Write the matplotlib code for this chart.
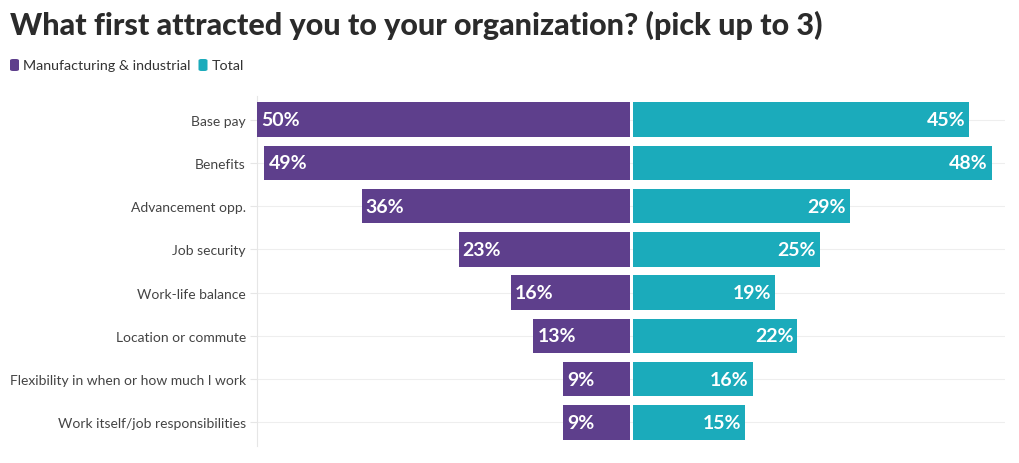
import matplotlib.pyplot as plt
from matplotlib.patches import FancyBboxPatch

categories = ["Base pay", "Benefits", "Advancement opp.", "Job security",
              "Work-life balance", "Location or commute",
              "Flexibility in when or how much I work",
              "Work itself/job responsibilities"]
manufacturing = [50, 49, 36, 23, 16, 13, 9, 9]
total = [45, 48, 29, 25, 19, 22, 16, 15]
series_names = ["Manufacturing & industrial", "Total"]

purple = "#5E3F8C"
teal = "#1BABBB"
gap = 0.2

plt.rcParams['font.family'] = ['Lato', 'DejaVu Sans']

fig = plt.figure(figsize=(10.2, 4.64), dpi=100)
ax = fig.add_axes([257 / 1020, 1 - 447 / 464, (1005 - 257) / 1020, (447 - 97) / 464])

y = list(range(len(categories)))
ax.barh(y, [-v for v in manufacturing], left=-gap, height=0.8, color=purple, zorder=3)
ax.barh(y, total, left=gap, height=0.8, color=teal, zorder=3)

for i, v in enumerate(manufacturing):
    ax.annotate(f"{v}%", (-v - gap, i), xytext=(3, 0), textcoords="offset points",
                ha="left", va="center", color="white", fontsize=14, fontweight="bold", zorder=4)
for i, v in enumerate(total):
    ax.annotate(f"{v}%", (v + gap, i), xytext=(-3, 0), textcoords="offset points",
                ha="right", va="center", color="white", fontsize=14, fontweight="bold", zorder=4)

ax.set_xlim(-50.2, 50.0)
ax.set_ylim(len(categories) - 0.5 + 0.05, -0.5 - 0.05)
ax.set_yticks(y)
ax.set_yticklabels(categories, fontsize=10, color="#444444")
ax.tick_params(axis="y", length=5, color="#e6e6e6", pad=3)
ax.set_xticks([])
ax.grid(axis="y", color="#eeeeee", linewidth=0.8, zorder=0)
for s in ["top", "right", "bottom"]:
    ax.spines[s].set_visible(False)
ax.spines["left"].set_color("#e6e6e6")

fig.text(10 / 1020, 1 - 25 / 464, "What first attracted you to your organization? (pick up to 3)",
         fontsize=22, fontweight="black", color="#2b2b2b", va="center", ha="left")

# legend
lx = 10
for name, col in zip(series_names, [purple, teal]):
    box = FancyBboxPatch((lx / 1020, 1 - 72 / 464), 9 / 1020, 12 / 464,
                         boxstyle="round,pad=0,rounding_size=0.003", transform=fig.transFigure,
                         facecolor=col, edgecolor="none")
    fig.patches.append(box)
    t = fig.text((lx + 13) / 1020, 1 - 66 / 464, name, fontsize=10.3, color="#333333",
                 va="center", ha="left")
    fig.canvas.draw()
    bb = t.get_window_extent()
    lx = bb.x1 + 8

fig.savefig("out.png", dpi=100)
